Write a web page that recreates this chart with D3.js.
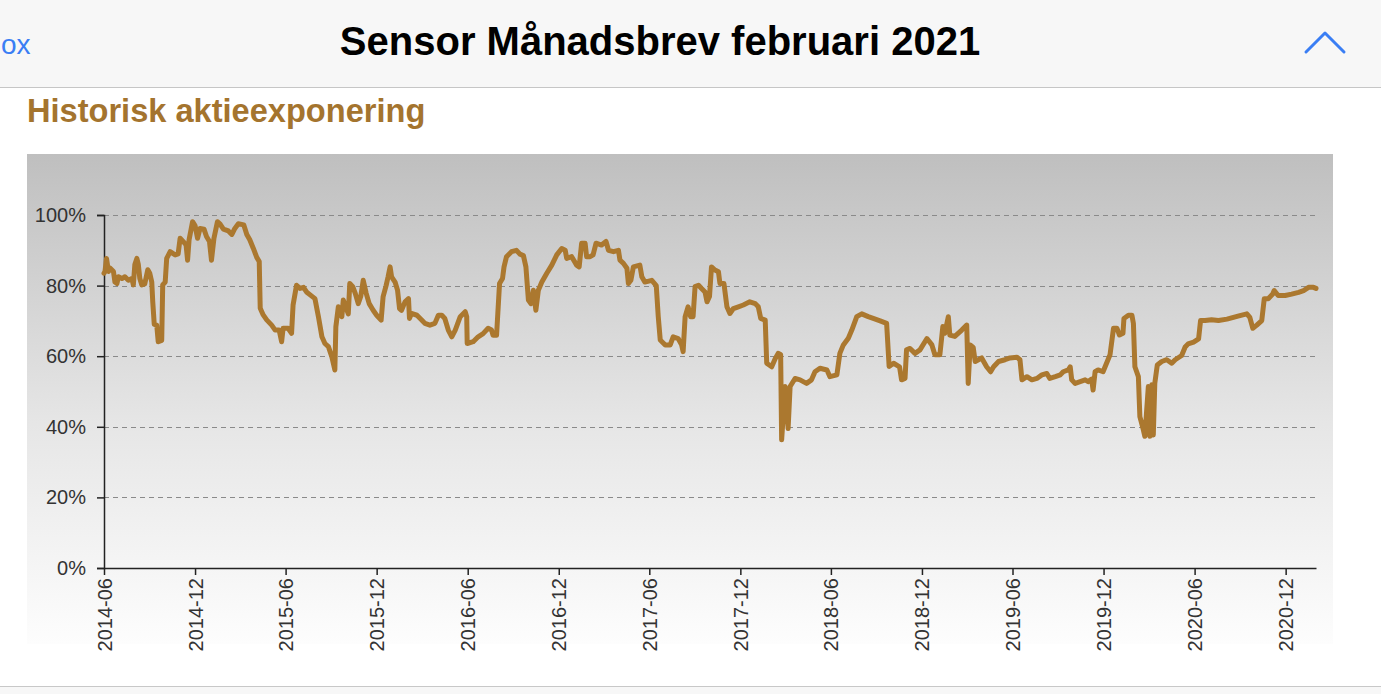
<!DOCTYPE html>
<html lang="sv">
<head>
    <meta charset="UTF-8">
    <title>Sensor Månadsbrev februari 2021</title>
    <script src="https://d3js.org/d3.v7.min.js"></script>
    <style>
        body {
            margin: 0;
            padding: 0;
            background-color: #fff;
            overflow: hidden;
        }
        svg {
            display: block;
        }
    </style>
</head>
<body>
<div id="chart"></div>

<script>
    // datum (vecka för vecka ungefär) och aktieexponering i procent
    const dates = [
        "2014-06-01","2014-06-03","2014-06-06","2014-06-10","2014-06-13","2014-06-20","2014-06-23","2014-06-27","2014-06-30",
        "2014-07-07","2014-07-13","2014-07-20","2014-07-27","2014-07-30","2014-08-02","2014-08-06","2014-08-09","2014-08-12",
        "2014-08-16","2014-08-22","2014-08-28","2014-09-01","2014-09-05","2014-09-07","2014-09-10","2014-09-15","2014-09-18",
        "2014-09-25","2014-09-27","2014-10-02","2014-10-05","2014-10-12","2014-10-22","2014-10-28","2014-11-01","2014-11-07",
        "2014-11-13","2014-11-16","2014-11-19","2014-11-26","2014-12-01","2014-12-06","2014-12-11","2014-12-19","2014-12-24",
        "2014-12-30","2015-01-03","2015-01-08","2015-01-15","2015-01-20","2015-01-27","2015-02-06","2015-02-13","2015-02-19",
        "2015-02-26","2015-03-09","2015-03-15","2015-03-21","2015-03-28","2015-04-04","2015-04-09","2015-04-11","2015-04-17",
        "2015-04-24","2015-05-04","2015-05-11","2015-05-19","2015-05-24","2015-05-27","2015-06-06","2015-06-13","2015-06-16",
        "2015-06-23","2015-06-30","2015-07-07","2015-07-13","2015-07-21","2015-07-30","2015-08-06","2015-08-13","2015-08-19",
        "2015-08-26","2015-09-02","2015-09-08","2015-09-10","2015-09-15","2015-09-22","2015-09-25","2015-09-30","2015-10-05",
        "2015-10-08","2015-10-14","2015-10-19","2015-10-25","2015-10-30","2015-11-04","2015-11-10","2015-11-16","2015-11-24",
        "2015-12-01","2015-12-10","2015-12-14","2015-12-20","2015-12-24","2015-12-28","2015-12-31","2016-01-07","2016-01-12",
        "2016-01-16","2016-01-20","2016-01-27","2016-02-03","2016-02-05","2016-02-09","2016-02-20","2016-03-01","2016-03-07",
        "2016-03-17","2016-03-27","2016-04-03","2016-04-10","2016-04-16","2016-04-23","2016-04-30","2016-05-07","2016-05-17",
        "2016-05-27","2016-05-30","2016-05-31","2016-06-12","2016-06-22","2016-07-02","2016-07-12","2016-07-19","2016-07-22",
        "2016-07-29","2016-08-04","2016-08-10","2016-08-13","2016-08-18","2016-08-28","2016-09-07","2016-09-14","2016-09-21",
        "2016-09-26","2016-10-01","2016-10-06","2016-10-11","2016-10-16","2016-10-21","2016-10-28","2016-11-07","2016-11-17",
        "2016-11-27","2016-12-07","2016-12-14","2016-12-17","2016-12-27","2017-01-06","2017-01-11","2017-01-16","2017-01-23",
        "2017-01-26","2017-02-02","2017-02-08","2017-02-14","2017-02-25","2017-03-06","2017-03-11","2017-03-21","2017-03-31",
        "2017-04-03","2017-04-10","2017-04-17","2017-04-20","2017-04-25","2017-04-30","2017-05-13","2017-05-17","2017-05-23",
        "2017-06-06","2017-06-15","2017-06-19","2017-06-23","2017-07-03","2017-07-13","2017-07-19","2017-07-29","2017-08-05",
        "2017-08-08","2017-08-12","2017-08-18","2017-08-23","2017-08-28","2017-09-01","2017-09-08","2017-09-14","2017-09-21",
        "2017-09-25","2017-09-30","2017-10-04","2017-10-11","2017-10-18","2017-10-21","2017-10-29","2017-11-04","2017-11-10",
        "2017-11-17","2017-11-27","2017-12-07","2017-12-20","2017-12-31","2018-01-06","2018-01-11","2018-01-20","2018-01-23",
        "2018-02-02","2018-02-09","2018-02-15","2018-02-20","2018-02-22","2018-03-01","2018-03-07","2018-03-11","2018-03-21",
        "2018-03-31","2018-04-13","2018-04-23","2018-04-30","2018-05-10","2018-05-24","2018-05-30","2018-06-13","2018-06-19",
        "2018-06-26","2018-07-06","2018-07-13","2018-07-23","2018-08-02","2018-08-15","2018-08-25","2018-09-08","2018-09-21",
        "2018-09-26","2018-10-05","2018-10-17","2018-10-21","2018-10-28","2018-10-31","2018-11-07","2018-11-17","2018-11-27",
        "2018-12-11","2018-12-21","2018-12-27","2019-01-06","2019-01-12","2019-01-16","2019-01-23","2019-01-26","2019-02-05",
        "2019-02-19","2019-03-01","2019-03-04","2019-03-08","2019-03-14","2019-03-18","2019-03-31","2019-04-10","2019-04-18",
        "2019-04-24","2019-05-04","2019-05-17","2019-05-27","2019-06-10","2019-06-16","2019-06-20","2019-06-30","2019-07-10",
        "2019-07-20","2019-07-30","2019-08-09","2019-08-15","2019-08-26","2019-09-05","2019-09-11","2019-09-21","2019-09-25",
        "2019-09-28","2019-10-05","2019-10-15","2019-10-25","2019-10-31","2019-11-07","2019-11-10","2019-11-14","2019-11-20",
        "2019-11-30","2019-12-07","2019-12-14","2019-12-21","2019-12-28","2020-01-02","2020-01-09","2020-01-11","2020-01-20",
        "2020-01-27","2020-01-30","2020-02-02","2020-02-09","2020-02-12","2020-02-19","2020-02-22","2020-02-29","2020-03-03",
        "2020-03-07","2020-03-10","2020-03-13","2020-03-18","2020-03-27","2020-04-06","2020-04-16","2020-04-23","2020-05-06",
        "2020-05-13","2020-05-19","2020-05-30","2020-06-09","2020-06-13","2020-06-22","2020-07-05","2020-07-19","2020-08-05",
        "2020-08-18","2020-08-31","2020-09-14","2020-09-20","2020-09-26","2020-10-04","2020-10-14","2020-10-19","2020-10-27",
        "2020-11-05","2020-11-08","2020-11-16","2020-11-30","2020-12-13","2020-12-27","2021-01-06","2021-01-16","2021-01-26",
        "2021-01-31"
    ];

    const exposure = [
        83.5, 84, 87.7, 84, 85, 84, 81, 80.6, 82.5,
        82, 82.5, 81.5, 82, 80.2, 86, 87.7, 86, 82,
        80.2, 80.5, 84.5, 83.5, 81, 75.4, 69, 68.8, 64.1,
        64.5, 80.2, 81, 87.7, 89.6, 88.7, 89, 93.4, 92.5,
        91.5, 87.2, 93, 98.1, 97, 93.4, 96.2, 96, 93.9,
        92.5, 87.2, 93.4, 98.1, 97.5, 96, 95.5, 94.5, 96.2,
        97.5, 97.2, 94.5, 93, 90.6, 88, 86.8, 73.6, 71.7,
        70.3, 68.8, 67.4, 67.4, 64.1, 67.9, 67.9, 66.5, 74.5,
        80.1, 79.2, 79.5, 78.2, 77.3, 76.3, 71.2, 65.5, 63.6,
        62.7, 59.8, 56.1, 68.3, 74, 71.2, 75.9, 74, 72,
        80.6, 79.7, 77.8, 74.9, 76.9, 81.5, 77.8, 74.9, 73,
        71.6, 70.2, 76.9, 80, 82.5, 85.3, 82.5, 81, 78.7,
        73.5, 73, 75.4, 76.3, 70.7, 72.1, 71.6, 70.2, 69.3,
        68.8, 69.3, 71.6, 71.6, 70.7, 67.4, 65.5, 67.4, 71.2,
        72.6, 71.2, 63.6, 64.1, 65.5, 66.4, 67.9, 67.4, 65.9,
        65.9, 80.6, 82, 85.3, 88.2, 89.6, 90, 88.9, 88.5,
        85.3, 75.9, 74.9, 78.7, 73, 78.7, 81, 83.5, 85.8,
        88.7, 90.5, 90, 87.7, 88.2, 85.8, 85.3, 92, 92,
        88.2, 88.2, 88.7, 92, 91.5, 92.5, 90, 89.6, 90,
        87.2, 86.3, 84.9, 80.6, 81.5, 85.3, 85.8, 82.5, 81,
        81.5, 80, 71.2, 64.6, 63.2, 63.2, 65.5, 65, 63.2,
        61.3, 71.2, 74, 71.2, 71.2, 79.7, 80.1, 79.2, 78.2,
        75.4, 76.9, 85.3, 84.4, 83.9, 80.6, 80.6, 74, 72.1,
        73.5, 74, 74.5, 75.4, 74.9, 74, 70.7, 70.2, 58,
        57, 59.3, 60.8, 60.5, 36.3, 51.4, 39.5, 51.4, 53.7,
        53.3, 52.3, 53.3, 55.6, 56.6, 56.1, 54.2, 54.7, 60.8,
        63.2, 65.1, 67.4, 71.2, 72, 71.2, 70.7, 70, 69.3,
        57.1, 58, 57, 53.3, 53.7, 61.8, 62.2, 60.8, 61.8,
        65, 63.2, 60.4, 60.4, 68.4, 66.5, 71.2, 66, 65.6,
        67.4, 68.8, 52.3, 63.2, 62.5, 58.5, 59.5, 57, 55.6,
        57, 58.5, 59, 59.5, 59.7, 59, 53.3, 54.2, 53.3,
        53.7, 54.7, 55.1, 53.7, 54.2, 54.7, 55.6, 56.1, 57,
        53.3, 52.3, 52.8, 53.3, 52.8, 53.5, 50.4, 55.6, 56.1,
        55.6, 58, 60.4, 67.9, 67.9, 66, 66.5, 70.7, 71.6,
        71.6, 69.3, 57, 54.2, 42.9, 39.1, 37.3, 51.4, 37.3,
        51.9, 37.7, 52.3, 57.5, 58.5, 59, 58, 59, 60.2,
        62.6, 63.5, 64, 64.9, 70.1, 70.1, 70.3, 70.1, 70.5,
        71, 71.5, 72, 71, 67.9, 68.8, 70.1, 76.3, 76.3,
        77.6, 78.6, 77.2, 77.2, 77.6, 78.1, 78.6, 79.5, 79.5,
        79.2
    ];

    const yTicks = [0, 20, 40, 60, 80, 100];
    const xTickLabels = ["2014-06", "2014-12", "2015-06", "2015-12", "2016-06", "2016-12", "2017-06",
        "2017-12", "2018-06", "2018-12", "2019-06", "2019-12", "2020-06", "2020-12"];

    const width = 1381;
    const height = 694;
    const lineColor = "#ab782f";
    const titleColor = "#a4742e";
    const iosBlue = "#3a7ef4";
    const font = "Liberation Sans, Arial, sans-serif";

    const parseDate = d3.timeParse("%Y-%m-%d");
    const parseMonth = d3.timeParse("%Y-%m");
    const series = dates.map((d, i) => ({ date: parseDate(d), value: exposure[i] }));

    const svg = d3.select("#chart")
        .append("svg")
        .attr("width", width)
        .attr("height", height);

    // toppfält som i mejlappen
    svg.append("rect")
        .attr("x", 0).attr("y", 0)
        .attr("width", width).attr("height", 87)
        .attr("fill", "#f7f7f7");
    svg.append("line")
        .attr("x1", 0).attr("x2", width)
        .attr("y1", 87.5).attr("y2", 87.5)
        .attr("stroke", "#c6c6c6");

    svg.append("text")
        .attr("x", 1).attr("y", 54)
        .attr("font-family", font)
        .attr("font-size", "28px")
        .attr("fill", iosBlue)
        .text("ox");

    svg.append("text")
        .attr("x", 660).attr("y", 55)
        .attr("text-anchor", "middle")
        .attr("font-family", font)
        .attr("font-weight", "bold")
        .attr("font-size", "40px")
        .attr("fill", "#000")
        .text("Sensor Månadsbrev februari 2021");

    svg.append("path")
        .attr("d", "M1306,52 L1325,33 L1344,52")
        .attr("fill", "none")
        .attr("stroke", iosBlue)
        .attr("stroke-width", 3)
        .attr("stroke-linecap", "round")
        .attr("stroke-linejoin", "round");

    svg.append("text")
        .attr("x", 27).attr("y", 122)
        .attr("font-family", font)
        .attr("font-weight", "bold")
        .attr("font-size", "32.6px")
        .attr("fill", titleColor)
        .text("Historisk aktieexponering");

    // diagrampanel med grå gradient
    const defs = svg.append("defs");
    const grad = defs.append("linearGradient")
        .attr("id", "bg")
        .attr("x1", 0).attr("y1", 0)
        .attr("x2", 0).attr("y2", 1);
    grad.append("stop").attr("offset", "0%").attr("stop-color", "#bfbfbf");
    grad.append("stop").attr("offset", "55%").attr("stop-color", "#e6e6e6");
    grad.append("stop").attr("offset", "100%").attr("stop-color", "#fdfdfd");

    svg.append("rect")
        .attr("x", 27).attr("y", 154)
        .attr("width", 1306).attr("height", 490)
        .attr("fill", "url(#bg)");

    svg.append("line")
        .attr("x1", 0).attr("x2", width)
        .attr("y1", 686.5).attr("y2", 686.5)
        .attr("stroke", "#c8c8c8");
    svg.append("rect")
        .attr("x", 0).attr("y", 687)
        .attr("width", width).attr("height", 7)
        .attr("fill", "#f7f7f7");

    const margin = { left: 104, right: 1316, top: 215, bottom: 568 };

    const x = d3.scaleTime()
        .domain(d3.extent(series, d => d.date))
        .range([margin.left, margin.right]);

    const y = d3.scaleLinear()
        .domain([0, 100])
        .range([margin.bottom, margin.top]);

    // streckade stödlinjer
    svg.append("g")
        .selectAll("line")
        .data(yTicks.filter(t => t > 0))
        .enter()
        .append("line")
        .attr("x1", margin.left)
        .attr("x2", margin.right)
        .attr("y1", d => Math.round(y(d)) + 0.5)
        .attr("y2", d => Math.round(y(d)) + 0.5)
        .attr("stroke", "#8a8a8a")
        .attr("stroke-width", 1)
        .attr("stroke-dasharray", "5,4");

    const yAxis = d3.axisLeft(y)
        .tickValues(yTicks)
        .tickSize(7)
        .tickPadding(11)
        .tickFormat(d => d + "%");

    const gy = svg.append("g")
        .attr("transform", `translate(${margin.left},0)`)
        .call(yAxis);
    gy.select(".domain").attr("stroke", "#222").attr("stroke-width", 1.5);
    gy.selectAll(".tick line").attr("stroke", "#222").attr("stroke-width", 1.5);
    gy.selectAll(".tick text")
        .attr("font-family", font)
        .attr("font-size", "20px")
        .attr("fill", "#333");

    const xAxis = d3.axisBottom(x)
        .tickValues(xTickLabels.map(parseMonth))
        .tickSize(7)
        .tickSizeOuter(0)
        .tickFormat(d3.timeFormat("%Y-%m"));

    const gx = svg.append("g")
        .attr("transform", `translate(0,${margin.bottom})`)
        .call(xAxis);
    gx.select(".domain").attr("stroke", "#222").attr("stroke-width", 1.5);
    gx.selectAll(".tick line").attr("stroke", "#222").attr("stroke-width", 1.5);
    gx.selectAll(".tick text")
        .attr("font-family", font)
        .attr("font-size", "20px")
        .attr("fill", "#333")
        .attr("text-anchor", "end")
        .attr("x", 0)
        .attr("y", 0)
        .attr("dy", "0.35em")
        .attr("transform", "translate(0,10) rotate(-90)");

    const line = d3.line()
        .x(d => x(d.date))
        .y(d => y(d.value));

    svg.append("path")
        .datum(series)
        .attr("d", line)
        .attr("fill", "none")
        .attr("stroke", lineColor)
        .attr("stroke-width", 5)
        .attr("stroke-linejoin", "round")
        .attr("stroke-linecap", "round");
</script>
</body>
</html>
